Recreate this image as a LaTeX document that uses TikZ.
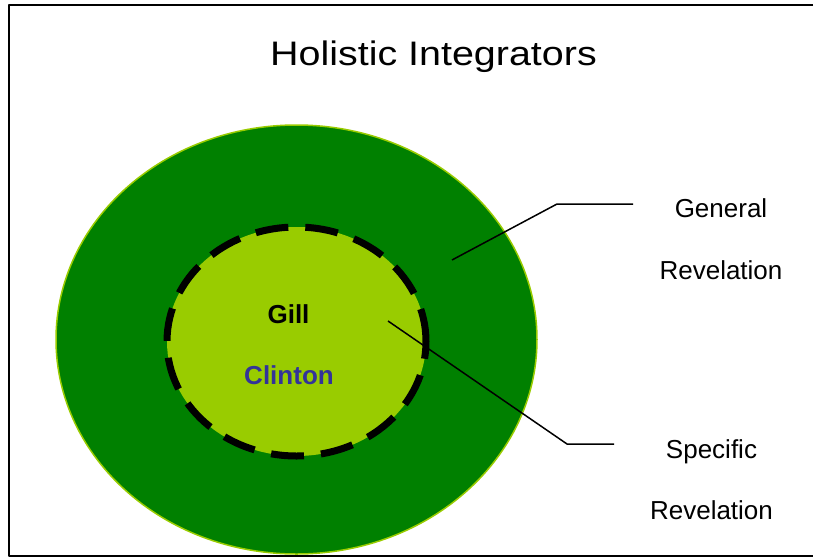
\documentclass[tikz,border=0pt]{standalone}
\usepackage{fontspec}
\setmainfont{Liberation Sans}
\usepackage{graphicx}
\usepackage{xcolor}
\usepackage{tikz}
\usetikzlibrary{positioning,calc}
\definecolor{ringgreen}{HTML}{008000}
\definecolor{coregreen}{HTML}{99CC00}
\definecolor{clintonblue}{HTML}{333399}
\tikzset{
    every picture/.style={line join=round},
    pageframe/.style={draw=black,line width=2pt},
    outerring/.style={fill=ringgreen,draw=coregreen,line width=1.5pt},
    innercore/.style={fill=coregreen,draw=black,line width=7pt,line cap=butt,
      dash pattern=on 33pt off 17pt},
    leader/.style={draw=black,line width=1.5pt},
    sidelabel/.style={anchor=base,inner sep=0pt,font=\fontsize{26}{30}\selectfont},
    namelabel/.style={anchor=base,inner sep=0pt,font=\fontsize{26}{30}\selectfont\bfseries},
    titlelabel/.style={anchor=base,inner sep=0pt,font=\fontsize{34}{40}\selectfont}
}

\begin{document}
\begin{tikzpicture}[x=1pt,y=-1pt]
    \useasboundingbox (0,0) rectangle (814,557);
    \draw[pageframe] (813,5) -- (9,5) -- (9,555.5) -- (813,555.5);
    \node[titlelabel] (title) at (433.5,65) {\scalebox{1.16}[1]{Holistic Integrators}};
    \draw[outerring] (296.5,339.5) ellipse [x radius=240.5pt,y radius=214.5pt];
    \draw[innercore] (296.5,341.5) ellipse [x radius=129.5pt,y radius=114.5pt];
    \node[namelabel] (gill) at (288.5,323) {Gill};
    \node[namelabel,text=clintonblue] (clinton) at (289,384) {Clinton};
    \node[sidelabel] (general) at (721,217) {General};
    \node[sidelabel] (genrev) at (721,279) {Revelation};
    \node[sidelabel] (specific) at (711.5,458) {Specific};
    \node[sidelabel] (specrev) at (711.5,519) {Revelation};
    \coordinate (genpt) at (452,260);
    \coordinate (genbend) at (557,204);
    \coordinate (genend) at (633,204);
    \coordinate (specpt) at (388,321);
    \coordinate (specbend) at (567,444);
    \coordinate (specend) at (614,444);
    \draw[leader] (genpt) -- (genbend) -- (genend);
    \draw[leader] (specpt) -- (specbend) -- (specend);
\end{tikzpicture}
\end{document}
